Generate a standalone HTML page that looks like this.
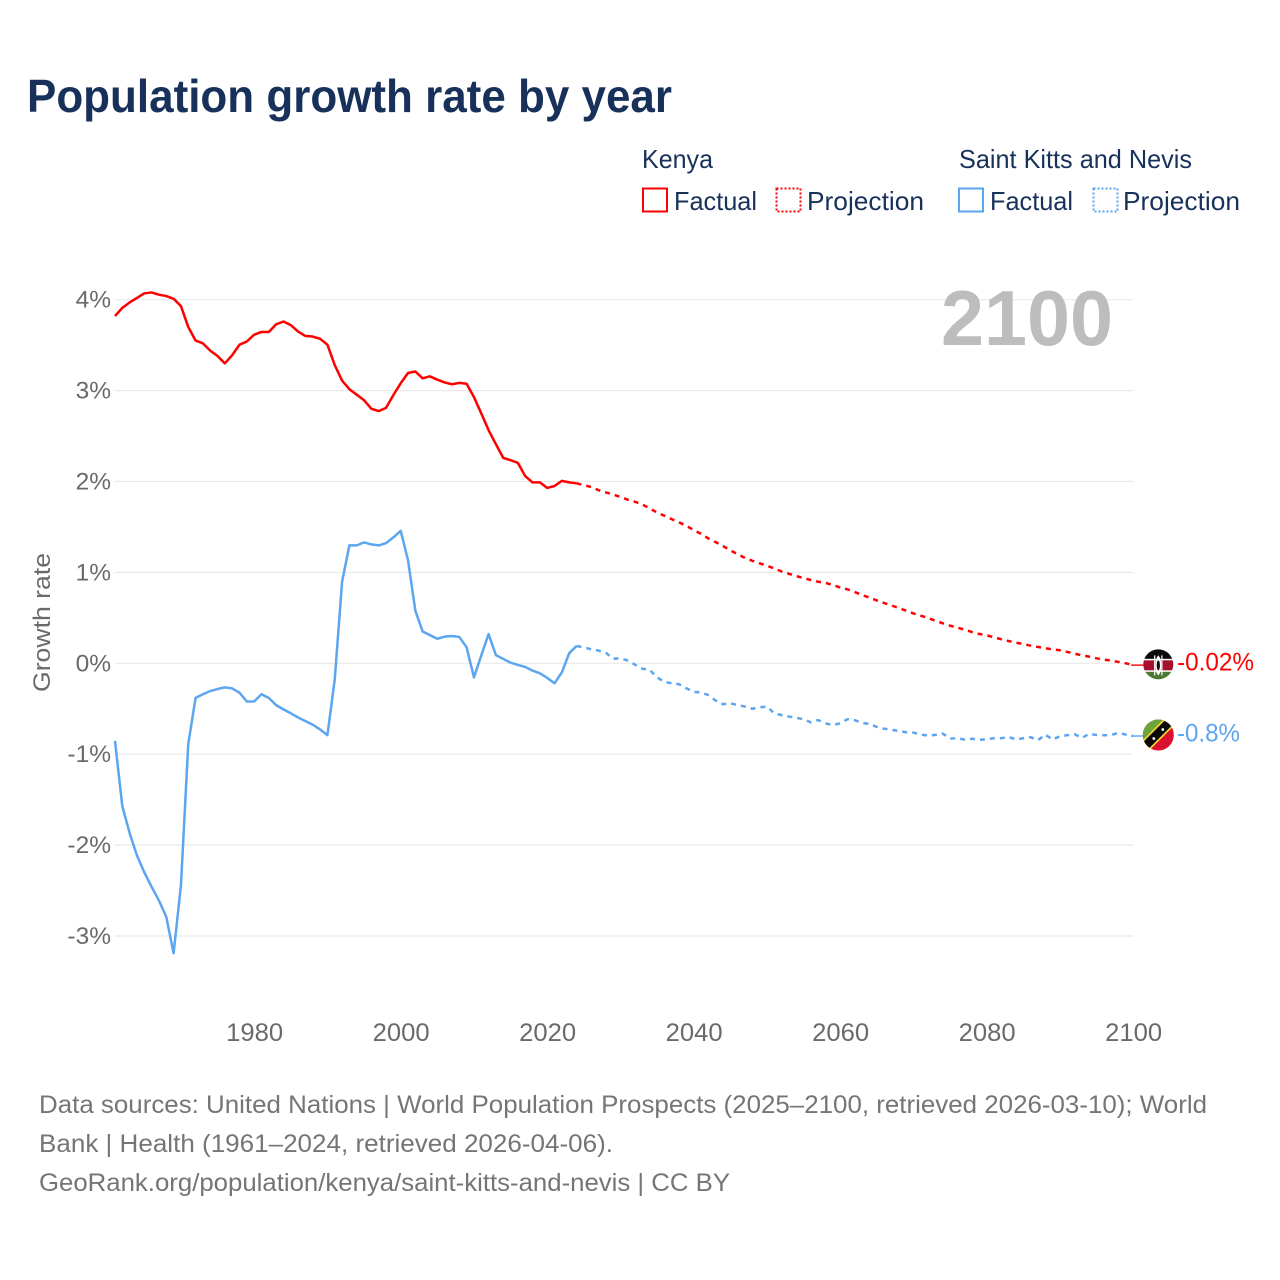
<!DOCTYPE html>
<html lang="en">
<head>
<meta charset="utf-8">
<title>Population growth rate by year</title>
<style>
  html, body { margin: 0; padding: 0; background: #ffffff; }
  body { width: 1280px; height: 1280px; overflow: hidden; }
  svg { display: block; font-family: "Liberation Sans", sans-serif; }
  .navy { fill: #17315a; }
  .grey { fill: #6a6a6a; }
  .foot { fill: #757575; font-size: 25px; }
</style>
</head>
<body>
<svg id="chart" xmlns="http://www.w3.org/2000/svg" width="1280" height="1280" viewBox="0 0 1280 1280">
  <rect x="0" y="0" width="1280" height="1280" fill="#ffffff"/>
  <text class="navy" x="27" y="112" font-size="46" font-weight="700" textLength="645" lengthAdjust="spacingAndGlyphs">Population growth rate by year</text>

  <g>
    <text class="navy" x="642" y="168" font-size="26" textLength="71" lengthAdjust="spacingAndGlyphs">Kenya</text>
    <rect x="643" y="188.5" width="24" height="23" fill="none" stroke="#ff0000" stroke-width="2"/>
    <text class="navy" x="674" y="210" font-size="26" textLength="83" lengthAdjust="spacingAndGlyphs">Factual</text>
    <rect x="776.5" y="188.5" width="24" height="23" fill="none" stroke="#ff0000" stroke-width="2" stroke-dasharray="2 2"/>
    <text class="navy" x="807" y="210" font-size="26" textLength="117" lengthAdjust="spacingAndGlyphs">Projection</text>

    <text class="navy" x="959" y="168" font-size="26" textLength="233" lengthAdjust="spacingAndGlyphs">Saint Kitts and Nevis</text>
    <rect x="959" y="188.5" width="24" height="23" fill="none" stroke="#5ca5ef" stroke-width="2"/>
    <text class="navy" x="990" y="210" font-size="26" textLength="83" lengthAdjust="spacingAndGlyphs">Factual</text>
    <rect x="1093.5" y="188.5" width="24" height="23" fill="none" stroke="#5ca5ef" stroke-width="2" stroke-dasharray="2 2"/>
    <text class="navy" x="1123" y="210" font-size="26" textLength="117" lengthAdjust="spacingAndGlyphs">Projection</text>
  </g>

  <g id="grid"></g>
  <g id="yticks"></g>
  <g id="xticks"></g>

  <text class="grey" transform="translate(50,622.5) rotate(-90)" text-anchor="middle" font-size="24" textLength="139" lengthAdjust="spacingAndGlyphs">Growth rate</text>
  <text x="1113" y="345" text-anchor="end" font-size="78" font-weight="700" fill="#bdbdbd" textLength="172" lengthAdjust="spacingAndGlyphs">2100</text>

  <g id="series"></g>

  <defs>
    <clipPath id="clip-ke"><circle cx="0" cy="0" r="15"/></clipPath>
    <clipPath id="clip-kn"><circle cx="0" cy="0" r="15.5"/></clipPath>
  </defs>
  <g id="flag-kenya" clip-path="url(#clip-ke)">
    <rect x="-16" y="-16" width="32" height="32" fill="#ffffff"/>
    <rect x="-16" y="-16" width="32" height="10.5" fill="#0a0a0a"/>
    <rect x="-16" y="-4" width="32" height="10" fill="#a5102f"/>
    <rect x="-16" y="7.5" width="32" height="9" fill="#4c7a32"/>
    <path d="M0 -9 C4 -5 4 7 0 11 C-4 7 -4 -5 0 -9Z" fill="#ffffff"/>
    <path d="M-3.6 -9 L-3.6 11 M3.6 -9 L3.6 11" stroke="#ffffff" stroke-width="1.2"/>
    <ellipse cx="0" cy="1" rx="1.6" ry="5" fill="#0a0a0a"/>
  </g>
  <g id="flag-nevis" clip-path="url(#clip-kn)">
    <rect x="-16" y="-16" width="32" height="32" fill="#d9102f"/>
    <path d="M-16 -16 L16 -16 L-16 16Z" fill="#6ba53c"/>
    <path d="M-17 15 L15 -17" stroke="#f5d230" stroke-width="12"/>
    <path d="M-17 15 L15 -17" stroke="#0a0a0a" stroke-width="8.5"/>
    <circle cx="-4.5" cy="3.5" r="1.4" fill="#ffffff"/>
    <circle cx="4.5" cy="-5.5" r="1.4" fill="#ffffff"/>
  </g>

  <g id="endlabels"></g>

  <g>
    <text class="foot" x="39" y="1113" textLength="1168" lengthAdjust="spacingAndGlyphs">Data sources: United Nations | World Population Prospects (2025–2100, retrieved 2026-03-10); World</text>
    <text class="foot" x="39" y="1152" textLength="574" lengthAdjust="spacingAndGlyphs">Bank | Health (1961–2024, retrieved 2026-04-06).</text>
    <text class="foot" x="39" y="1191" textLength="691" lengthAdjust="spacingAndGlyphs">GeoRank.org/population/kenya/saint-kitts-and-nevis | CC BY</text>
  </g>
</svg>

<script>
const factualStartYear = 1961;
const projectionStartYear = 2024;
const yearTicks = [1980, 2000, 2020, 2040, 2060, 2080, 2100];
const growthTicks = [4, 3, 2, 1, 0, -1, -2, -3];

const kenyaFactual = [
  3.82, 3.91, 3.97, 4.02, 4.07, 4.08, 4.055, 4.04, 4.01, 3.93,
  3.70, 3.55, 3.52, 3.44, 3.38, 3.30, 3.39, 3.505, 3.54, 3.615,
  3.645, 3.645, 3.73, 3.76, 3.72, 3.65, 3.60, 3.595, 3.57, 3.505,
  3.28, 3.11, 3.015, 2.955, 2.894, 2.80, 2.775, 2.81, 2.95, 3.08,
  3.194, 3.21, 3.135, 3.157, 3.12, 3.09, 3.07, 3.085, 3.075, 2.93,
  2.75, 2.565, 2.41, 2.26, 2.235, 2.205, 2.06, 1.99, 1.99, 1.93,
  1.95, 2.007, 1.99, 1.98
];
const kenyaProjection = [
  1.98, 1.96, 1.94, 1.905, 1.88, 1.857, 1.83, 1.80, 1.777, 1.747,
  1.703, 1.66, 1.623, 1.586, 1.55, 1.513, 1.465, 1.425, 1.374, 1.333,
  1.29, 1.242, 1.20, 1.16, 1.128, 1.10, 1.073, 1.044, 1.01, 0.985,
  0.96, 0.938, 0.916, 0.897, 0.886, 0.86, 0.835, 0.813, 0.784, 0.751,
  0.722, 0.692, 0.663, 0.637, 0.608, 0.579, 0.549, 0.524, 0.498, 0.469,
  0.44, 0.414, 0.392, 0.37, 0.344, 0.322, 0.308, 0.286, 0.264, 0.245,
  0.227, 0.212, 0.194, 0.18, 0.165, 0.154, 0.143, 0.125, 0.106, 0.088,
  0.073, 0.055, 0.04, 0.03, 0.015, 0.0, -0.02
];
const nevisFactual = [
  -0.853, -1.574, -1.868, -2.114, -2.30, -2.46, -2.61, -2.79, -3.19, -2.445,
  -0.89, -0.38, -0.34, -0.305, -0.283, -0.265, -0.276, -0.324, -0.42, -0.42,
  -0.34, -0.382, -0.46, -0.507, -0.55, -0.596, -0.636, -0.676, -0.728, -0.79,
  -0.176, 0.897, 1.297, 1.297, 1.33, 1.308, 1.297, 1.322, 1.385, 1.458,
  1.135, 0.58, 0.35, 0.31, 0.27, 0.293, 0.30, 0.29, 0.176, -0.154,
  0.084, 0.322, 0.09, 0.048, 0.007, -0.018, -0.04, -0.08, -0.11, -0.16,
  -0.22, -0.10, 0.11, 0.19
];
const nevisProjection = [
  0.19, 0.176, 0.154, 0.14, 0.117, 0.05, 0.055, 0.03, -0.015, -0.06,
  -0.073, -0.154, -0.205, -0.22, -0.23, -0.275, -0.315, -0.32, -0.35, -0.41,
  -0.45, -0.44, -0.46, -0.476, -0.50, -0.484, -0.476, -0.55, -0.57, -0.586,
  -0.60, -0.615, -0.65, -0.625, -0.66, -0.68, -0.66, -0.615, -0.626, -0.656,
  -0.667, -0.70, -0.72, -0.73, -0.747, -0.758, -0.762, -0.784, -0.795, -0.788,
  -0.773, -0.828, -0.824, -0.839, -0.83, -0.842, -0.835, -0.824, -0.824, -0.81,
  -0.839, -0.824, -0.813, -0.846, -0.784, -0.839, -0.802, -0.791, -0.78, -0.82,
  -0.777, -0.788, -0.791, -0.788, -0.766, -0.784, -0.8
];

const NS = 'http://www.w3.org/2000/svg';
const KENYA_COLOR = '#ff0000';
const NEVIS_COLOR = '#5ca5ef';

function xScale(year) { return 115 + (year - 1961) * 7.325; }
function yScale(value) { return 663.3 - value * 90.9; }
function make(tag, attrs, parent) {
  const el = document.createElementNS(NS, tag);
  for (const k in attrs) el.setAttribute(k, attrs[k]);
  parent.appendChild(el);
  return el;
}
function pathFor(values, startYear) {
  return values.map(function (v, i) {
    return (i ? 'L' : 'M') + xScale(startYear + i).toFixed(2) + ' ' + yScale(v).toFixed(2);
  }).join(' ');
}

const gridG = document.getElementById('grid');
const yTickG = document.getElementById('yticks');
growthTicks.forEach(function (t) {
  const line = make('line', { x1: 115, x2: 1133, y1: yScale(t), y2: yScale(t), stroke: '#e9e9e9', 'stroke-width': 1.2 }, gridG);
  
  
  const label = make('text', { x: 111, y: yScale(t) + 8, 'text-anchor': 'end', 'font-size': 24.5, class: 'grey' }, yTickG);
  
  
  label.textContent = t + '%';
});

const xTickG = document.getElementById('xticks');
yearTicks.forEach(function (t) {
  const label = make('text', { x: xScale(t) + 0.5, y: 1041, 'text-anchor': 'middle', 'font-size': 25, class: 'grey', textLength: 57, lengthAdjust: 'spacingAndGlyphs' }, xTickG);
  
  
  label.textContent = t;
});

const seriesG = document.getElementById('series');
const common = { fill: 'none', 'stroke-width': 2.5, 'stroke-linejoin': 'round' };

const kenyaFactualLine = make('path', Object.assign({ d: pathFor(kenyaFactual, factualStartYear), stroke: KENYA_COLOR }, common), seriesG);



const kenyaProjectionLine = make('path', Object.assign({ d: pathFor(kenyaProjection, projectionStartYear), stroke: KENYA_COLOR, 'stroke-dasharray': '5 5' }, common), seriesG);



const nevisFactualLine = make('path', Object.assign({ d: pathFor(nevisFactual, factualStartYear), stroke: NEVIS_COLOR }, common), seriesG);



const nevisProjectionLine = make('path', Object.assign({ d: pathFor(nevisProjection, projectionStartYear), stroke: NEVIS_COLOR, 'stroke-dasharray': '5 5' }, common), seriesG);



const kenyaLast = kenyaProjection[kenyaProjection.length - 1];
const nevisLast = nevisProjection[nevisProjection.length - 1];
const endX = xScale(2100);

const kenyaConnector = make('line', { x1: endX - 2, x2: 1146, y1: yScale(kenyaLast), y2: yScale(kenyaLast), stroke: KENYA_COLOR, 'stroke-width': 1.4 }, seriesG);



const nevisConnector = make('line', { x1: endX - 2, x2: 1146, y1: yScale(nevisLast), y2: yScale(nevisLast), stroke: NEVIS_COLOR, 'stroke-width': 1.4 }, seriesG);



document.getElementById('flag-kenya').setAttribute('transform', 'translate(1158.3,' + (yScale(kenyaLast) - 0.8) + ')');
document.getElementById('flag-nevis').setAttribute('transform', 'translate(1158.3,' + (yScale(nevisLast) - 1) + ')');

const endG = document.getElementById('endlabels');
const kenyaEnd = make('text', { x: 1177, y: yScale(kenyaLast) + 5.5, 'font-size': 25, fill: KENYA_COLOR, textLength: 77, lengthAdjust: 'spacingAndGlyphs' }, endG);


kenyaEnd.textContent = kenyaLast + '%';

const nevisEnd = make('text', { x: 1177, y: yScale(nevisLast) + 5.5, 'font-size': 25, fill: NEVIS_COLOR, textLength: 63, lengthAdjust: 'spacingAndGlyphs' }, endG);


nevisEnd.textContent = nevisLast + '%';
</script>
</body>
</html>
